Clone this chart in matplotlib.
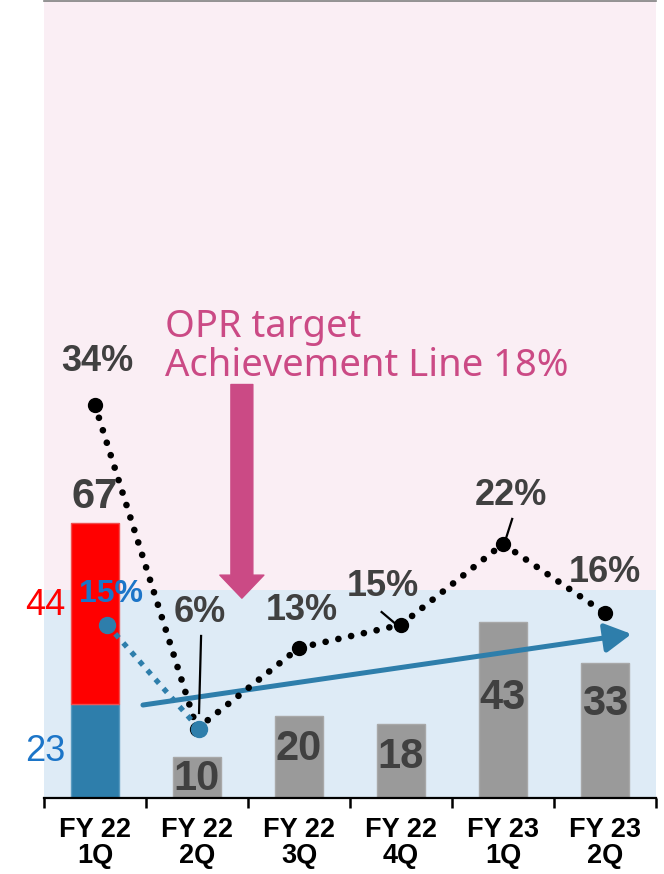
import matplotlib
matplotlib.use("Agg")
import matplotlib.pyplot as plt
from matplotlib.patches import Rectangle
from matplotlib.transforms import blended_transform_factory

# ---------------- data ----------------
categories = ["FY 22\n1Q", "FY 22\n2Q", "FY 22\n3Q", "FY 22\n4Q", "FY 23\n1Q", "FY 23\n2Q"]
bar_values = [67, 10, 20, 18, 43, 33]
first_lower = 23     # blue part of FY22 1Q
first_upper = 44     # red part of FY22 1Q
opr_pct = [34, 6, 13, 15, 22, 16]
blue_pct = [15, 6]   # blue dotted segment
target_pct = 18

# ---------------- styling / positions ----------------
PINK = "#FAEEF4"
LBLUE = "#DEEBF6"
RED = "#FF0000"
BLUE = "#2E7EAB"
BLUE_TXT = "#1C75C8"
GRAY = "#9A9A9A"
DGRAY = "#404040"
MAG = "#CB4A85"

W, H = 664, 874
fig = plt.figure(figsize=(W / 100, H / 100), dpi=100)
ax = fig.add_axes([44 / W, 1 - 798 / H, 612 / W, 797 / H])
ax.set_xlim(-0.5, 5.5)
ax.set_ylim(0, 797 / 4.1)
ax2 = ax.twinx()
ax2.set_ylim(0, 797 / 11.55)

# backgrounds (on the bar axes, in percentage coordinates)
ax.set_facecolor(PINK)
btr = blended_transform_factory(ax.transAxes, ax2.transData)
ax.add_patch(Rectangle((0, 0), 1, target_pct, transform=btr, facecolor=LBLUE,
                       edgecolor="none", zorder=0))

# bars
xs = list(range(len(categories)))
bw = 0.48
ax.bar(0, first_lower, width=bw, color=BLUE, edgecolor="#5A9BC0", linewidth=1, zorder=2)
ax.bar(0, first_upper, bottom=first_lower, width=bw, color=RED, edgecolor="#F05050",
       linewidth=1, zorder=2)
ax.bar(xs[1:], bar_values[1:], width=bw, color=GRAY, edgecolor="#A8A8A8", linewidth=1, zorder=2)

# bar value labels
bar_label_y = [73.5, 4.6, 12.0, 10.0, 24.4, 23.0]
for x, v, y in zip(xs, bar_values, bar_label_y):
    ax.text(x, y, str(v), ha="center", va="center", fontsize=30, fontweight="bold",
            color=DGRAY, family="Liberation Sans", zorder=5)
ax.text(-0.29, 47.0, str(first_upper), ha="right", va="center", fontsize=26, color=RED,
        family="Liberation Sans", clip_on=False)
ax.text(-0.29, 11.4, str(first_lower), ha="right", va="center", fontsize=26, color=BLUE_TXT,
        family="Liberation Sans", clip_on=False)

# axis styling
for s in ["left", "right"]:
    ax.spines[s].set_visible(False)
    ax2.spines[s].set_visible(False)
ax2.spines["top"].set_visible(False)
ax2.spines["bottom"].set_visible(False)
ax.spines["top"].set_color("#808080")
ax.spines["top"].set_linewidth(1.2)
ax.spines["bottom"].set_color("black")
ax.spines["bottom"].set_linewidth(1.6)
ax.set_yticks([])
ax2.set_yticks([])
ax.set_xticks(xs)
ax.set_xticklabels(categories, fontsize=19.5, fontweight="bold", family="Liberation Sans",
                   linespacing=1.0)
ax.tick_params(axis="x", which="major", length=0, pad=14)
ax.set_xticks([i - 0.5 for i in range(len(categories) + 1)], minor=True)
ax.tick_params(axis="x", which="minor", length=7, width=1.8, direction="out", color="black")

# trend arrow
ax2.annotate("", xy=(5.26, 14.2), xytext=(0.47, 8.05),
             arrowprops=dict(arrowstyle="-|>,head_length=0.4,head_width=0.22",
                             mutation_scale=40, color=BLUE, lw=3.6,
                             shrinkA=0, shrinkB=0), zorder=4)

# black dotted OPR line
ax2.plot(xs, opr_pct, color="black", lw=4.8, linestyle=(0, (0.01, 1.95)),
         dash_capstyle="round", zorder=6)
ax2.plot(xs, opr_pct, linestyle="none", marker="o", ms=10, color="black", zorder=7)

# blue dotted segment
blue_x = [0.12, 1.02]
ax2.plot(blue_x, blue_pct, color=BLUE, lw=3.8, linestyle=(0, (1, 1.3)), zorder=7)
ax2.plot(blue_x, blue_pct, linestyle="none", marker="o", ms=11.5, color=BLUE, zorder=8)

# percentage labels
pct_label_pos = [(0.02, 37.75), (1.03, 16.1), (2.03, 16.2), (2.82, 18.35), (4.08, 26.2), (5.0, 19.5)]
for (lx, ly), v in zip(pct_label_pos, opr_pct):
    ax2.text(lx, ly, f"{v}%", ha="center", va="center", fontsize=26, fontweight="bold",
             color=DGRAY, family="Liberation Sans", zorder=9)
ax2.text(0.16, 17.66, f"{blue_pct[0]}%", ha="center", va="center", fontsize=23,
         fontweight="bold", color=BLUE_TXT, family="Liberation Sans", zorder=9)

# leader lines
leaders = [((1.04, 1.02), (14.03, 7.36)), ((2.81, 2.96), (16.1, 14.98)), ((4.09, 4.03), (24.16, 22.5))]
for lx, ly in leaders:
    ax2.plot(lx, ly, color="black", lw=1.6, zorder=9)

# target annotation
ax2.text(0.686, 39.1, f"OPR target\nAchievement Line {target_pct}%", ha="left", va="center",
         fontsize=27.5, color=MAG, family="Noto Sans", linespacing=1.03, zorder=9)
ax2.annotate("", xy=(1.44, 17.3), xytext=(1.44, 35.8),
             arrowprops=dict(arrowstyle="simple,head_length=1.66,head_width=3.17,tail_width=1.58",
                             mutation_scale=10, color=MAG, shrinkA=0, shrinkB=0), zorder=5)

fig.savefig("out.png", dpi=100)
